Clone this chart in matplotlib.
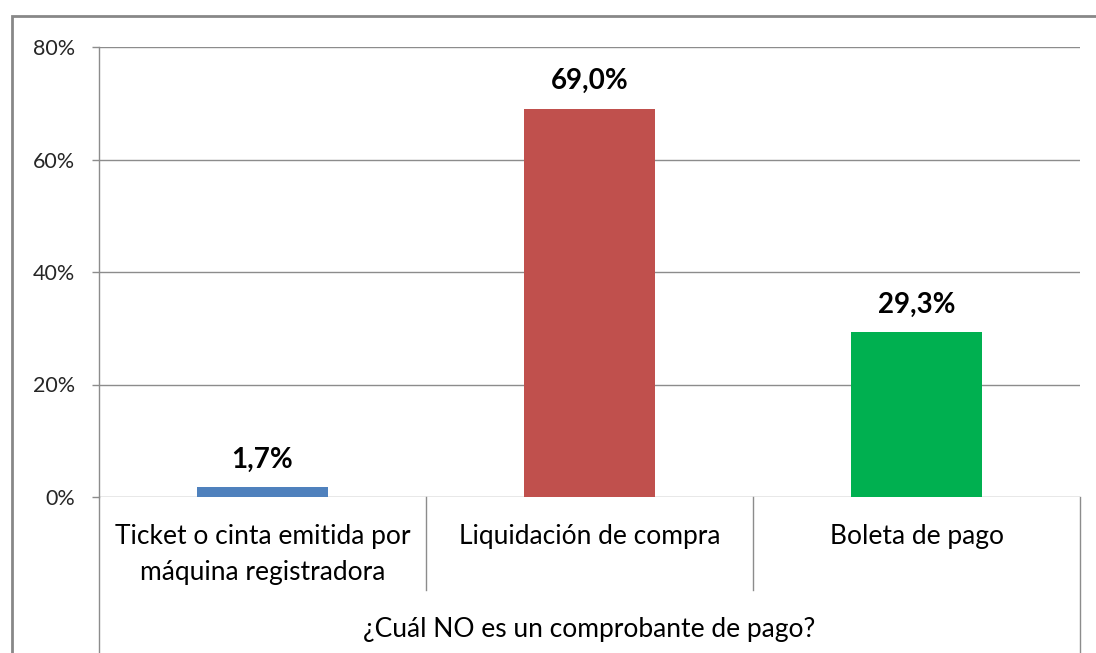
import matplotlib.pyplot as plt
from matplotlib.patches import Rectangle

# Datos
categorias = ["Ticket o cinta emitida por\nmáquina registradora",
              "Liquidación de compra",
              "Boleta de pago"]
valores = [1.7, 69.0, 29.3]
etiquetas = ["1,7%", "69,0%", "29,3%"]
colores = ["#4F81BD", "#C0504D", "#00B050"]
ticks_y = [0, 20, 40, 60, 80]
titulo_eje = "¿Cuál NO es un comprobante de pago?"

plt.rcParams['font.family'] = ['Lato', 'DejaVu Sans']
gris = "#8C8C8C"

fig = plt.figure(figsize=(10.96, 6.53), dpi=100)
ax = fig.add_axes([99 / 1096, 1 - 497 / 653, (1080 - 99) / 1096, 450 / 653])

x = range(len(categorias))
ax.bar(x, valores, width=0.4, color=colores, zorder=3)

for i, (v, t) in enumerate(zip(valores, etiquetas)):
    ax.annotate(t, (i, v), xytext=(0, 20), textcoords="offset points",
                ha="center", va="center", fontsize=20, fontweight="bold",
                color="#000000")

ax.set_xlim(-0.5, 2.5)
ax.set_ylim(0, 80)
ax.set_yticks(ticks_y)
ax.set_yticklabels([f"{t}%" for t in ticks_y], fontsize=15.5, color="#262626")
ax.tick_params(axis="y", length=5, color=gris, width=1, pad=12.5)
ax.tick_params(axis="x", length=0)
ax.set_xticks([])
ax.grid(axis="y", color=gris, linewidth=1, zorder=0)

for s in ["top", "right", "bottom"]:
    ax.spines[s].set_visible(False)
ax.spines["left"].set_color(gris)
ax.spines["left"].set_linewidth(1)

# Eje de categorias multinivel
trans = ax.get_xaxis_transform()
# y en fracción del eje: 1px = 1/450
px = 1 / 450
for xb in [0.5, 1.5]:
    ax.plot([xb, xb], [0, -93 * px], transform=trans, color=gris, lw=1, clip_on=False)
for xb in [-0.5, 2.5]:
    ax.plot([xb, xb], [0, -160 * px], transform=trans, color=gris, lw=1, clip_on=False)

for i, c in enumerate(categorias):
    ax.text(i, -27 * px, c, transform=trans, ha="center", va="top",
            fontsize=19, color="#000000", linespacing=1.55)

ax.text(1, -133 * px, titulo_eje, transform=trans, ha="center", va="center",
        fontsize=19, color="#000000")

# Borde exterior del gráfico
fig.patches.append(Rectangle((12 / 1096, -0.2), 1.2, 1.2 - 16 / 653,
                             transform=fig.transFigure, fill=False,
                             edgecolor="#888888", linewidth=2))

fig.savefig("out.png", dpi=100)
